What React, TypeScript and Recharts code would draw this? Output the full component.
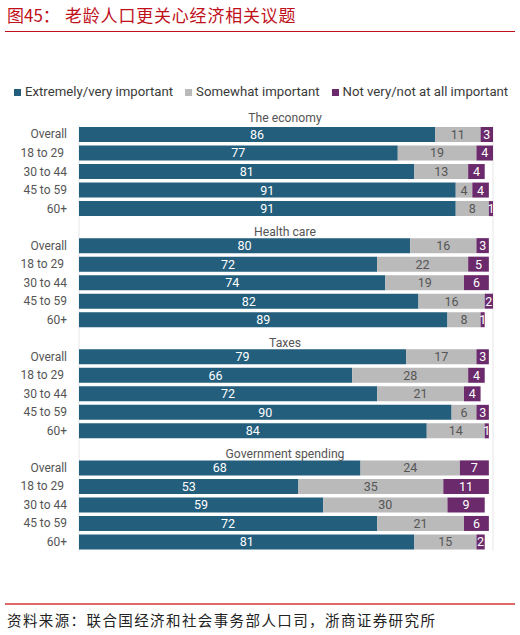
import { BarChart, Bar, XAxis, YAxis, CartesianGrid, LabelList } from "recharts";

const groups = ["The economy", "Health care", "Taxes", "Government spending"];
const ageLabels = ["Overall", "18 to 29 ", "30 to 44", "45 to 59", "60+"];
const veryImportant = [
  [86, 77, 81, 91, 91],
  [80, 72, 74, 82, 89],
  [79, 66, 72, 90, 84],
  [68, 53, 59, 72, 81],
];
const somewhatImportant = [
  [11, 19, 13, 4, 8],
  [16, 22, 19, 16, 8],
  [17, 28, 21, 6, 14],
  [24, 35, 30, 21, 15],
];
const notImportant = [
  [3, 4, 4, 4, 1],
  [3, 5, 6, 2, 1],
  [3, 4, 4, 3, 1],
  [7, 11, 9, 6, 2],
];
const xTicks = [0, 25, 50, 75, 100];

const BLUE = "#235e7d";
const GREY = "#bababa";
const PURPLE = "#6a2a6b";
const FONT = "Roboto, 'Noto Sans', sans-serif";
const CJK = "'Noto Sans CJK SC', serif";

type Row = {
  id: string;
  label: string;
  group?: string;
  gi: number;
  a: number | null;
  b: number | null;
  c: number | null;
};

const rows: Row[] = [];
groups.forEach((g, gi) => {
  if (gi > 0) rows.push({ id: `sp${gi}`, label: "", gi, a: null, b: null, c: null });
  ageLabels.forEach((lab, i) => {
    rows.push({
      id: `${gi}-${i}`,
      label: lab,
      group: i === 0 ? g : undefined,
      gi,
      a: veryImportant[gi][i],
      b: somewhatImportant[gi][i],
      c: notImportant[gi][i],
    });
  });
});

const byId: Record<string, Row> = {};
rows.forEach((r) => (byId[r.id] = r));

const TITLE_X = 285;

function AgeTick(props: any) {
  const { x, y, payload } = props;
  const row = byId[payload.value];
  if (!row) return null;
  // the first group title sits above the plot, a little higher than the rest
  const titleOffset = row.gi === 0 ? 16.5 : 13.5;
  return (
    <g>
      <text
        x={x}
        y={y}
        dy="0.35em"
        textAnchor="end"
        fill="#555"
        fontSize={12}
        fontFamily={FONT}
        style={{ whiteSpace: "pre" }}
      >
        {row.label}
      </text>
      {row.group && (
        <text
          x={TITLE_X}
          y={y - titleOffset}
          dy="0.35em"
          textAnchor="middle"
          fill="#555"
          fontSize={12.2}
          fontFamily={FONT}
        >
          {row.group}
        </text>
      )}
    </g>
  );
}

const legendItems = [
  { name: "Extremely/very important", color: BLUE },
  { name: "Somewhat important", color: GREY },
  { name: "Not very/not at all important", color: PURPLE },
];

export default function App() {
  return (
    <div
      style={{
        position: "absolute",
        left: 0,
        top: 0,
        width: 520,
        height: 635,
        background: "#fff",
        overflow: "hidden",
      }}
    >
      <div
        style={{
          position: "absolute",
          left: 7,
          top: 4,
          fontFamily: CJK,
          fontSize: 17,
          color: "#c0101a",
          lineHeight: "22px",
          whiteSpace: "nowrap",
        }}
      >
        图45：
      </div>
      <div
        style={{
          position: "absolute",
          left: 65,
          top: 4,
          fontFamily: CJK,
          fontSize: 17,
          letterSpacing: 0.8,
          color: "#c0101a",
          lineHeight: "22px",
          whiteSpace: "nowrap",
        }}
      >
        老龄人口更关心经济相关议题
      </div>
      <div
        style={{
          position: "absolute",
          left: 5,
          top: 31,
          width: 510,
          height: 1,
          background: "#c0101a",
        }}
      />

      <div
        style={{
          position: "absolute",
          left: 14,
          top: 84,
          display: "flex",
          gap: 12,
          fontFamily: FONT,
          fontSize: 13.2,
          color: "#3a3a3a",
          whiteSpace: "nowrap",
          lineHeight: "16px",
        }}
      >
        {legendItems.map((it) => (
          <div key={it.name} style={{ display: "flex", alignItems: "center" }}>
            <span
              style={{
                display: "inline-block",
                width: 7,
                height: 7,
                background: it.color,
                marginRight: 4,
              }}
            />
            {it.name}
          </div>
        ))}
      </div>

      <div style={{ position: "absolute", left: 0, top: 0 }}>
        <BarChart
          width={520}
          height={560}
          data={rows}
          layout="vertical"
          margin={{ top: 125, right: 27, bottom: 9, left: 0 }}
          barCategoryGap={2}
        >
          <CartesianGrid horizontal={false} stroke="#e6e6e6" />
          <XAxis
            type="number"
            domain={[0, 100]}
            ticks={xTicks}
            height={0}
            tick={false}
            axisLine={false}
            tickLine={false}
          />
          <YAxis
            type="category"
            dataKey="id"
            width={79}
            axisLine={false}
            tickLine={false}
            tickSize={0}
            tickMargin={12}
            interval={0}
            tick={<AgeTick />}
          />
          <Bar dataKey="a" stackId="s" fill={BLUE} isAnimationActive={false}>
            <LabelList
              dataKey="a"
              position="center"
              fill="#ffffff"
              fontSize={12.5}
              fontFamily={FONT}
            />
          </Bar>
          <Bar dataKey="b" stackId="s" fill={GREY} isAnimationActive={false}>
            <LabelList
              dataKey="b"
              position="center"
              fill="#555555"
              fontSize={12.5}
              fontFamily={FONT}
            />
          </Bar>
          <Bar dataKey="c" stackId="s" fill={PURPLE} isAnimationActive={false}>
            <LabelList
              dataKey="c"
              position="center"
              fill="#ffffff"
              fontSize={12.5}
              fontFamily={FONT}
            />
          </Bar>
        </BarChart>
      </div>

      <div
        style={{
          position: "absolute",
          left: 5,
          top: 603,
          width: 510,
          height: 1.5,
          background: "#e06a6a",
        }}
      />
      <div
        style={{
          position: "absolute",
          left: 7,
          top: 609,
          fontFamily: CJK,
          fontSize: 14.5,
          color: "#222",
          lineHeight: "22px",
          whiteSpace: "nowrap",
          letterSpacing: 1.4,
        }}
      >
        资料来源：联合国经济和社会事务部人口司，浙商证券研究所
      </div>
    </div>
  );
}
